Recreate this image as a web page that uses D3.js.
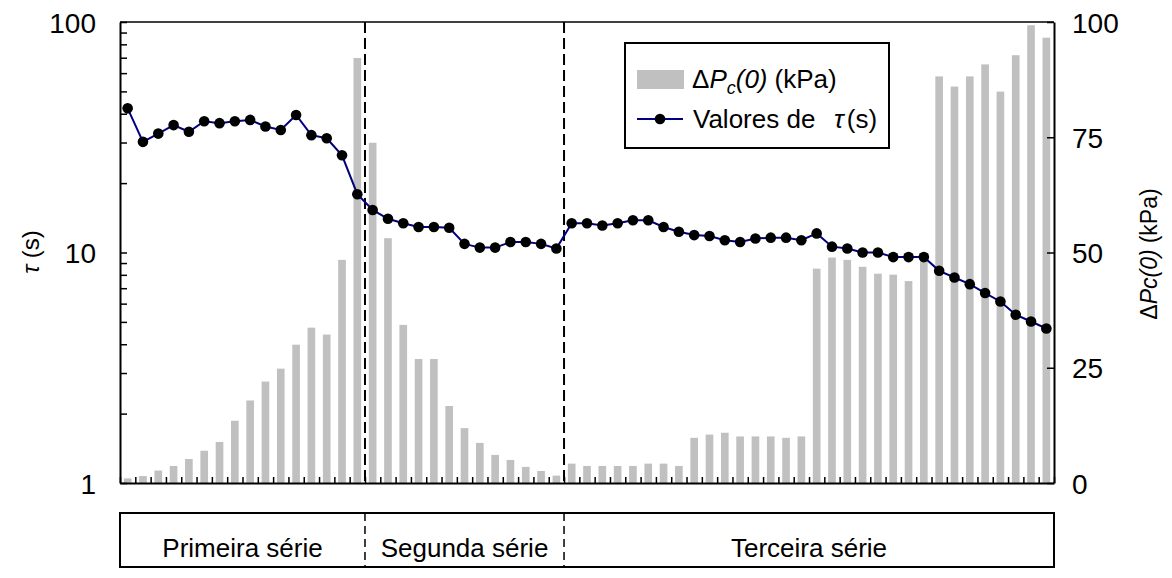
<!DOCTYPE html>
<html>
<head>
<meta charset="utf-8">
<script src="https://cdn.jsdelivr.net/npm/d3@7"></script>
<style>
  body { margin: 0; background: #fff; }
  text { font-family: Arial, "Liberation Sans", sans-serif; fill: #000; }
</style>
</head>
<body>
<svg id="chart" width="1172" height="578"></svg>
<script>
// τ (s) for each test, in order
const tauValues = [
  42.2, 30.2, 32.8, 35.7, 33.4, 37.1, 36.4, 37.1, 37.6, 35.2, 34.0, 39.5, 32.3, 31.3, 26.4, 17.9,
  15.3, 14.0, 13.4, 12.9, 12.9, 12.8, 10.9, 10.5, 10.5, 11.1, 11.1, 10.9, 10.4,
  13.4, 13.4, 13.1, 13.4, 13.8, 13.8, 12.9, 12.3, 11.9, 11.8, 11.3, 11.1, 11.5, 11.6, 11.6, 11.3,
  12.1, 10.6, 10.4, 10.0, 10.0, 9.55, 9.55, 9.55, 8.33, 7.79, 7.29, 6.67, 6.13, 5.37, 5.02, 4.68
];
// ΔPc(0) (kPa) for each test
const pressureValues = [
  1.0, 1.5, 2.7, 3.7, 5.2, 7.0, 8.9, 13.5, 17.9, 22.0, 24.8, 30.0, 33.7, 32.2, 48.4, 92.2,
  73.8, 53.1, 34.3, 26.9, 26.9, 16.7, 11.9, 8.7, 6.1, 5.0, 3.5, 2.6, 1.6,
  4.2, 3.7, 3.7, 3.7, 3.7, 4.2, 4.2, 3.7, 9.8, 10.5, 10.9, 10.1, 10.1, 10.1, 9.8, 10.1,
  46.5, 48.9, 48.4, 46.9, 45.4, 45.2, 43.8, 49.9, 88.2, 86.0, 88.2, 90.8, 84.9, 92.8, 99.3, 96.6
];
const seriesNames = ["Primeira série", "Segunda série", "Terceira série"];
const seriesStarts = [0, 16, 29];          // first test index of each série
const tauTickLabels = [1, 10, 100];
const pressureTicks = [0, 25, 50, 75, 100];

const svg = d3.select("#chart");
const plot = { left: 120, right: 1054, top: 22, bottom: 483 };
const n = tauValues.length;

const xBand = d3.scaleBand().domain(d3.range(n))
  .range([plot.left, plot.right]).paddingInner(0.5).paddingOuter(0.25);
const xEdge = d3.scaleLinear().domain([0, n]).range([plot.left, plot.right]);
const yTau = d3.scaleLog().domain([1, 100]).range([plot.bottom, plot.top]);
const yP = d3.scaleLinear().domain([0, 100]).range([plot.bottom, plot.top]);

// bars: ΔPc(0)
svg.append("g").selectAll("rect").data(pressureValues).join("rect")
  .attr("x", (d, i) => xBand(i))
  .attr("width", xBand.bandwidth())
  .attr("y", d => yP(d))
  .attr("height", d => yP(0) - yP(d))
  .attr("fill", "#c0c0c0");

// série separators
const sepX = seriesStarts.slice(1).map(s => xEdge(s));
svg.append("g").selectAll("line").data(sepX).join("line")
  .attr("x1", d => d).attr("x2", d => d)
  .attr("y1", plot.top).attr("y2", plot.bottom)
  .attr("stroke", "#000").attr("stroke-width", 2)
  .attr("stroke-dasharray", "11,5");

// τ line + markers
const line = d3.line().x((d, i) => xBand(i) + xBand.bandwidth() / 2).y(d => yTau(d));
svg.append("path").datum(tauValues).attr("d", line)
  .attr("fill", "none").attr("stroke", "#000080").attr("stroke-width", 2);
svg.append("g").selectAll("circle").data(tauValues).join("circle")
  .attr("cx", (d, i) => xBand(i) + xBand.bandwidth() / 2)
  .attr("cy", d => yTau(d))
  .attr("r", 5.3).attr("fill", "#000");

// frame top
svg.append("line").attr("x1", plot.left).attr("x2", plot.right)
  .attr("y1", plot.top).attr("y2", plot.top)
  .attr("stroke", "#000").attr("stroke-width", 1.5);

// left log axis
const logTicks = [];
[1, 10].forEach(dec => { for (let k = 1; k <= 9; k++) logTicks.push(dec * k); });
logTicks.push(100);
const axL = svg.append("g").attr("transform", `translate(${plot.left},0)`)
  .call(d3.axisLeft(yTau).tickValues(logTicks).tickSizeInner(-7).tickSizeOuter(0).tickPadding(24)
    .tickFormat(d => tauTickLabels.includes(d) ? String(d) : ""));
// right linear axis
const axR = svg.append("g").attr("transform", `translate(${plot.right},0)`)
  .call(d3.axisRight(yP).tickValues(pressureTicks).tickSizeInner(-7).tickSizeOuter(0).tickPadding(18));
// bottom axis: ticks between tests
const axB = svg.append("g").attr("transform", `translate(0,${plot.bottom})`)
  .call(d3.axisBottom(xEdge).tickValues(d3.range(n + 1)).tickSizeInner(-6).tickSizeOuter(0).tickFormat(""));

[axL, axR, axB].forEach(g => {
  g.select(".domain").attr("stroke-width", 2);
  g.selectAll(".tick line").attr("stroke-width", 1.5);
  g.selectAll(".tick text").attr("font-size", 28).attr("dy", "0.36em")
    .attr("font-family", "Arial, 'Liberation Sans', sans-serif");
});

// axis titles
const tl = svg.append("text").attr("transform", "translate(39,252) rotate(-90)")
  .attr("text-anchor", "middle").attr("font-size", 24);
tl.append("tspan").attr("font-style", "italic").text("τ");
tl.append("tspan").text(" (s)");

const tr = svg.append("text").attr("transform", "translate(1157,254) rotate(-90)")
  .attr("text-anchor", "middle").attr("font-size", 23);
tr.append("tspan").text("Δ");
tr.append("tspan").attr("font-style", "italic").text("Pc(0)");
tr.append("tspan").attr("dx", 6).text("(kPa)");

// legend
const lg = svg.append("g");
lg.append("rect").attr("x", 625).attr("y", 43).attr("width", 264).attr("height", 105)
  .attr("fill", "#fff").attr("stroke", "#000").attr("stroke-width", 2);
lg.append("rect").attr("x", 637).attr("y", 70).attr("width", 47).attr("height", 19).attr("fill", "#c0c0c0");
const lt1 = lg.append("text").attr("x", 692).attr("y", 88).attr("font-size", 26);
lt1.append("tspan").text("Δ");
lt1.append("tspan").attr("font-style", "italic").text("P");
lt1.append("tspan").attr("font-style", "italic").attr("font-size", 18).attr("dy", 6).text("c");
lt1.append("tspan").attr("font-style", "italic").attr("dy", -6).text("(0)");
lt1.append("tspan").attr("dx", 7).text("(kPa)");
lg.append("line").attr("x1", 637).attr("x2", 683).attr("y1", 119).attr("y2", 119)
  .attr("stroke", "#000080").attr("stroke-width", 2);
lg.append("circle").attr("cx", 660).attr("cy", 119).attr("r", 5.3).attr("fill", "#000");
const lt2 = lg.append("text").attr("x", 693).attr("y", 128).attr("font-size", 26);
lt2.append("tspan").text("Valores de");
lt2.append("tspan").attr("x", 834).attr("font-style", "italic").text("τ");
lt2.append("tspan").attr("dx", 3).text("(s)");

// série band under the chart
const band = { top: 513, bottom: 567 };
svg.append("rect").attr("x", plot.left).attr("y", band.top)
  .attr("width", plot.right - plot.left).attr("height", band.bottom - band.top)
  .attr("fill", "none").attr("stroke", "#000").attr("stroke-width", 2);
svg.append("g").selectAll("line").data(sepX).join("line")
  .attr("x1", d => d).attr("x2", d => d).attr("y1", band.top).attr("y2", band.bottom)
  .attr("stroke", "#000").attr("stroke-width", 1.5).attr("stroke-dasharray", "8,5");
const segEnds = seriesStarts.slice(1).concat([n]);
svg.append("g").selectAll("text").data(seriesNames).join("text")
  .attr("x", (d, i) => (xEdge(seriesStarts[i]) + xEdge(segEnds[i])) / 2)
  .attr("y", 557).attr("text-anchor", "middle").attr("font-size", 26)
  .text(d => d);
</script>
</body>
</html>
